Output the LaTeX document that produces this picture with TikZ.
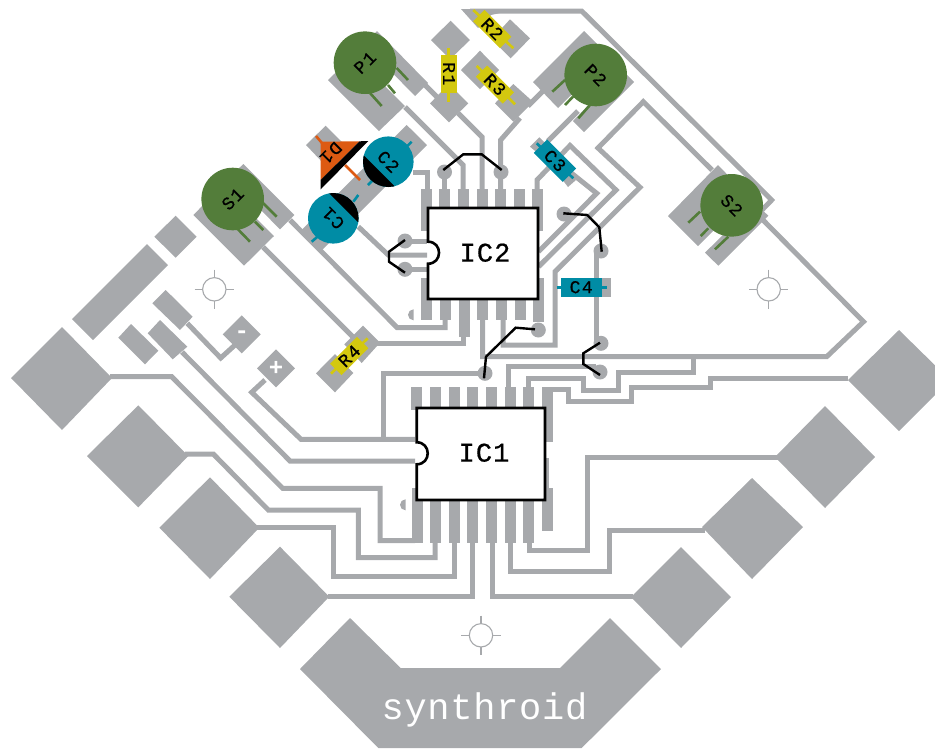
\documentclass[tikz,border=0pt]{standalone}
\usepackage{fontspec}
\setmainfont{Liberation Mono}
\newfontfamily\partfont[FakeBold=0.7,LetterSpace=8]{Liberation Mono}
\newfontfamily\chipfont[FakeBold=0.7,LetterSpace=4]{Liberation Mono}
\newfontfamily\boardfont[LetterSpace=2]{Liberation Mono}
\usepackage{tikz}
\definecolor{boardgray}{HTML}{A7A9AC}
\definecolor{partgreen}{HTML}{537D3A}
\definecolor{partteal}{HTML}{008CA5}
\definecolor{partyellow}{HTML}{D3C80F}
\definecolor{partorange}{HTML}{DD5A12}
\tikzset{>=stealth,
    trace/.style={draw=boardgray,line width=5pt},
    pad/.style={fill=boardgray},
    pin/.style={draw=boardgray,line width=11pt},
    via/.style={fill=boardgray},
    jumper/.style={draw=black,line width=2.4pt},
    target/.style={draw=boardgray,line width=1.1pt},
    lead/.style={line width=2.6pt},
    icbody/.style={draw=black,fill=white,line width=2.6pt},
    potbody/.style={circle,fill=partgreen,minimum size=62.6pt,inner sep=0pt,font=\partfont\fontsize{18}{18}\selectfont},
    capbody/.style={circle,fill=partteal,minimum size=50.6pt,inner sep=0pt,font=\partfont\fontsize{18}{18}\selectfont},
    resbody/.style={fill=partyellow,minimum width=38pt,minimum height=16pt,inner sep=0pt,font=\partfont\fontsize{18}{18}\selectfont},
    tealbody/.style={fill=partteal,minimum width=41pt,minimum height=19pt,inner sep=0pt,font=\partfont\fontsize{18}{18}\selectfont},
}
\begin{document}
\begin{tikzpicture}[x=1pt,y=-1pt]
    \useasboundingbox (0,0) rectangle (935,748);
    \clip (0,0) rectangle (935,748);

    % big pads
    \fill[pad] (62,327) -- (112,378) -- (62,430) -- (11,378) -- cycle;
    \fill[pad] (138.3,405.3) -- (188.3,456) -- (138.3,507.3) -- (87,456) -- cycle;
    \fill[pad] (210,477.3) -- (259.3,527.7) -- (210,579) -- (159.3,527.7) -- cycle;
    \fill[pad] (280,546.7) -- (329.3,596.7) -- (280,648) -- (229.3,596.7) -- cycle;
    \fill[pad] (899,330) -- (950,380) -- (899,431) -- (848,380) -- cycle;
    \fill[pad] (825,406) -- (875,457) -- (825,508) -- (775,457) -- cycle;
    \fill[pad] (752,478) -- (803,527) -- (752,579) -- (702,527) -- cycle;
    \fill[pad] (681,547) -- (731,597) -- (681,648) -- (631,597) -- cycle;
    \fill[pad] (350,618) -- (400.7,668) -- (560,668) -- (610,618) -- (661,669) -- (581.7,748) -- (378.3,748) -- (300,669) -- cycle;

    % battery and switch pads
    \fill[pad] (147,244) -- (168,265) -- (93,340) -- (72,319) -- cycle;
    \fill[pad] (175.7,215.7) -- (196.7,236.7) -- (175.7,257.7) -- (154.3,236.7) -- cycle;
    \fill[pad] (165.7,290) -- (192.7,316.7) -- (180,330) -- (152.3,303.3) -- cycle;
    \fill[pad] (160,320) -- (187.3,346.7) -- (172.7,359.3) -- (147.7,333.3) -- cycle;
    \fill[pad] (131,324) -- (158.3,350.7) -- (145,364.3) -- (118.3,337.7) -- cycle;
    \fill[pad] (241.7,315.3) -- (260.7,334.3) -- (241.7,353.3) -- (222.7,334.3) -- cycle;
    \fill[pad] (276,349.3) -- (295,368.3) -- (276,387.3) -- (257,368.3) -- cycle;

    % part pads
    \fill[pad] (328,80) -- (379,131) -- (405,106) -- (354,55) -- cycle;
    \fill[pad] (377,31) -- (428,83) -- (415,96) -- (364,44) -- cycle;
    \fill[pad] (533,82) -- (584,31) -- (610,57) -- (558,108) -- cycle;
    \fill[pad] (622,70) -- (634,82) -- (584,132) -- (573,121) -- cycle;
    \fill[pad] (193.3,215) -- (244,265.7) -- (274,236) -- (223,185) -- cycle;
    \fill[pad] (243.3,164) -- (294.3,215) -- (280,229.3) -- (229,178) -- cycle;
    \fill[pad] (718,165) -- (748,196) -- (698,246) -- (668,216) -- cycle;
    \fill[pad] (755,203) -- (768.3,215.7) -- (718.3,265.7) -- (705,252.7) -- cycle;
    \fill[pad] (363,325.7) -- (380,342.7) -- (361.7,363) -- (344.3,344.3) -- cycle;
    \fill[pad] (335,354) -- (353.3,373) -- (335,392.3) -- (316,373.3) -- cycle;
    \fill[pad] (450.7,20.7) -- (470,40) -- (450,59.3) -- (431,40) -- cycle;
    \fill[pad] (449,84) -- (468.3,103.3) -- (449,122.3) -- (430,103.3) -- cycle;
    \fill[pad] (510,19.3) -- (530,38.3) -- (510.7,58.3) -- (491.7,39.3) -- cycle;
    \fill[pad] (461,9) -- (500,9) -- (500,13) -- (491,15) -- (478,28) -- cycle;
    \fill[pad] (480,50.7) -- (499,70) -- (480,89) -- (461,70) -- cycle;
    \fill[pad] (513.3,84) -- (533.3,102) -- (513.3,121.7) -- (495,103.3) -- cycle;
    \fill[pad] (325.7,125.7) -- (345,145) -- (325,165) -- (306,145) -- cycle;
    \fill[pad] (406.7,125) -- (427,145) -- (322,250) -- (302,229.5) -- cycle;
    \fill[pad] (539.3,137.3) -- (545,142.7) -- (536,151.7) -- (530,146.7) -- cycle;
    \fill[pad] (561,178) -- (568,187) -- (576,180) -- (570,172) -- cycle;
    \fill[pad] (590,278) rectangle (611,296.7);

    % traces round the chips
    \draw[trace] (405,107) -- (463,165) -- (463,190);
    \draw[trace] (424,84) -- (437,97);
    \draw[trace] (458,113) -- (482,137) -- (482,190);
    \draw[trace] (520,118) -- (500.7,140) -- (500.7,190);
    \draw[trace] (444.7,172) -- (444.7,190);
    \draw[trace] (528,106) -- (544,90);
    \draw[trace] (548,141) -- (578,111);
    \draw[trace] (413,172) -- (427,172) -- (427,190);
    \draw[trace] (470,11) -- (581.7,11) -- (771.7,200) -- (762,210);
    \draw[trace] (537,190) -- (537,180) -- (570,145.5) -- (616,190) -- (538.5,266.7);
    \draw[trace] (570,172) -- (596.7,193.3) -- (538.5,251.7);
    \draw[trace] (503,320) -- (503,345) -- (555,345) -- (555,271.7) -- (640,187.3) -- (598,148) -- (643.3,101.7) -- (712,170);
    \draw[trace] (482.7,320) -- (482.7,356.7) -- (826.7,356.7) -- (863.5,321.7) -- (763,220);
    \draw[trace] (290,220) -- (397,327.5) -- (445,327.5) -- (445,320);
    \draw[trace] (263,247) -- (353,337);
    \draw[trace] (377,343.5) -- (463.5,343.5) -- (463.5,330);
    \draw[trace] (358.3,226.7) -- (388.3,255) -- (427,255);
    \draw[trace] (405,241) -- (427,241);
    \draw[trace] (405,269.3) -- (427,269.3);
    \draw[trace] (596,250) -- (596,343);
    \draw[trace] (596,366.7) -- (508.3,366.7) -- (508.3,388);
    \draw[trace] (528.3,388) -- (528.3,378.3) -- (583,378.3) -- (583,390) -- (618,390) -- (618,372.5) -- (693,372.5) -- (693,357);
    \draw[trace] (848,378.7) -- (710,378.7) -- (710,387) -- (631.7,387) -- (631.7,401.7) -- (568.3,401.7) -- (568.3,389.5) -- (547,389.5);

    % traces to the big pads
    \draw[trace] (110,376.7) -- (171.7,376.7) -- (282.7,488.3) -- (380,488.3) -- (380,540.7) -- (415,540.7);
    \draw[trace] (185,454) -- (213.3,454) -- (268.3,510) -- (358.3,510) -- (358.3,557.7) -- (435,557.7) -- (435,540);
    \draw[trace] (256.7,527.7) -- (333.3,527.7) -- (333.3,576.7) -- (454,576.7) -- (454,540);
    \draw[trace] (328,596.7) -- (472.7,596.7) -- (472.7,540);
    \draw[trace] (633,596.7) -- (492.3,596.7) -- (492.3,540);
    \draw[trace] (705,530.7) -- (609.3,530.7) -- (609.3,571.7) -- (510.7,571.7) -- (510.7,540);
    \draw[trace] (780,457.7) -- (587.7,457.7) -- (587.7,550) -- (529.3,550) -- (529.3,540);
    \draw[trace] (187.3,323.3) -- (220.7,358) -- (235,345);
    \draw[trace] (182,352) -- (290,461) -- (415,461);
    \draw[trace] (265,380) -- (251.7,392.3) -- (301,439.3) -- (415,439.3);
    \draw[trace] (383.3,439) -- (383.3,373.3) -- (485,373.3);

    % pins of IC2
    \draw[pin] (426,189) -- (426,231);
    \draw[pin] (444.7,189) -- (444.7,210);
    \draw[pin] (463,189) -- (463,210);
    \draw[pin] (482,189) -- (482,210);
    \draw[pin] (500.7,189) -- (500.7,210);
    \draw[pin] (519,189) -- (519,210);
    \draw[pin] (537,189) -- (537,231);
    \draw[pin] (426.7,278) -- (426.7,320);
    \draw[pin] (445,298) -- (445,320);
    \draw[pin] (464,298) -- (464,337);
    \draw[pin] (482.7,298) -- (482.7,320);
    \draw[pin] (501,298) -- (501,320);
    \draw[pin] (520,298) -- (520,320);
    \draw[pin] (538.7,278) -- (538.7,322);

    % pins of IC1
    \draw[pin] (416.7,387) -- (416.7,410);
    \draw[pin] (435.7,387) -- (435.7,410);
    \draw[pin] (454,387) -- (454,410);
    \draw[pin] (472.7,387) -- (472.7,410);
    \draw[pin] (491.3,387) -- (491.3,410);
    \draw[pin] (510,387) -- (510,410);
    \draw[pin] (528.7,387) -- (528.7,410);
    \draw[pin] (547,387) -- (547,441.7);
    \draw[pin] (417.5,488) -- (417.5,543);
    \draw[pin] (435.7,498) -- (435.7,543);
    \draw[pin] (454,498) -- (454,543);
    \draw[pin] (472.7,498) -- (472.7,543);
    \draw[pin] (491.3,498) -- (491.3,543);
    \draw[pin] (510,498) -- (510,543);
    \draw[pin] (528.7,498) -- (528.7,543);
    \draw[pin] (547,488) -- (547,530.7);
    \fill[pad] (545,458) rectangle (549,490);

    % vias
    \fill[via] (444.5,172) circle (7.5pt);
    \fill[via] (501,172) circle (7.5pt);
    \fill[via] (405,241) circle (7.5pt);
    \fill[via] (405,269.3) circle (7.5pt);
    \fill[via] (564,214) circle (7.5pt);
    \fill[via] (601,251) circle (7.5pt);
    \fill[via] (538.3,330) circle (7.5pt);
    \fill[via] (601,343.3) circle (7.5pt);
    \fill[via] (600,372) circle (7.5pt);
    \fill[via] (485,373.3) circle (7.5pt);
    \fill[via] (413.5,309.3) arc (90:270:5.5pt) -- cycle;
    \fill[via] (405.5,499.3) arc (90:270:5.5pt) -- cycle;

    % registration targets
    \draw[target] (194.6,289.3) -- (234,289.3);
    \draw[target] (214.3,269.6) -- (214.3,309);
    \draw[target,fill=white] (214.3,289.3) circle (11.7pt);
    \draw[target] (749,289.3) -- (788.4,289.3);
    \draw[target] (768.7,269.6) -- (768.7,309);
    \draw[target,fill=white] (768.7,289.3) circle (11.7pt);
    \draw[target] (461.3,635.3) -- (500.7,635.3);
    \draw[target] (481,615.6) -- (481,655);
    \draw[target,fill=white] (481,635.3) circle (11.7pt);

    % leads
    \draw[lead,partgreen] (370,93) -- (381.7,106);
    \draw[lead,partgreen] (388,85) -- (395,93.3);
    \draw[lead,partgreen] (396.7,68) -- (408,80);
    \draw[lead,partgreen] (565,80) -- (552.3,91.7);
    \draw[lead,partgreen] (573,96.7) -- (565,105);
    \draw[lead,partgreen] (590,105) -- (578.3,118.3);
    \draw[lead,partgreen] (236.7,228) -- (250,241.7);
    \draw[lead,partgreen] (255,221.7) -- (263.3,230);
    \draw[lead,partgreen] (263.3,203.3) -- (276.7,216.7);
    \draw[lead,partgreen] (700,211.7) -- (688.3,222.7);
    \draw[lead,partgreen] (708.3,228.3) -- (700.7,236);
    \draw[lead,partgreen] (728.3,236.7) -- (715,249.3);
    \draw[lead,partyellow] (448.3,47.7) -- (448.3,101.7);
    \draw[lead,partyellow] (473.3,10) -- (513.3,48.3);
    \draw[lead,partyellow] (476.7,66) -- (515,104.3);
    \draw[lead,partyellow] (331,373.7) -- (367.7,338.3);
    \draw[lead,partteal] (536.7,143.3) -- (573.3,178.3);
    \draw[lead,partteal] (556.7,287.3) -- (606.7,287.3);
    \draw[lead,partteal] (406.7,146.7) -- (411.7,141.7);
    \draw[lead,partteal] (368,185) -- (373,180);
    \draw[lead,partteal] (353.3,201.7) -- (358.3,195);
    \draw[lead,partteal] (311.7,241.7) -- (318.3,236);
    \draw[lead,partorange] (316,136) -- (321.7,142.7);
    \draw[lead,partorange] (345,165) -- (360,180);

    % parts
    \node[potbody,rotate=45] (p1) at (365,62.7) {P1};
    \node[potbody,rotate=-45] (p2) at (595.7,75) {P2};
    \node[potbody,rotate=45] (s1) at (232.7,199) {S1};
    \node[potbody,rotate=-45] (s2) at (731.7,205.3) {S2};
    \node[resbody,rotate=-90] (r1) at (449,73.8) {R1};
    \node[resbody,rotate=-45] (r2) at (492.3,29) {R2};
    \node[resbody,rotate=-45] (r3) at (495,84.6) {R3};
    \node[resbody,rotate=45] (r4) at (349.3,356) {R4};
    \node[tealbody,rotate=-45] (c3) at (555,160.7) {C3};
    \node[tealbody] (c4) at (581.2,287.2) {C4};
    \node[capbody,rotate=-45] (c2) at (388.3,161.7) {C2};
    \node[capbody,rotate=135] (c1) at (333.3,218.3) {C1};
    \begin{scope}
        \clip (388.3,161.7) circle (25.3pt);
        \fill[black] (340,131.5) -- (420,211.5) -- (375,256.5) -- (295,176.5) -- cycle;
    \end{scope}
    \begin{scope}
        \clip (333.3,218.3) circle (25.3pt);
        \fill[black] (304,168) -- (389,253) -- (434,208) -- (349,123) -- cycle;
    \end{scope}
    \fill[partorange] (320.7,141.7) -- (359.5,141.3) -- (320.7,180) -- cycle;
    \fill[black] (359.5,141.3) -- (368.3,141) -- (320.7,189.3) -- (320.7,180) -- cycle;
    \node[rotate=225,font=\partfont\fontsize{18}{18}\selectfont] (d1) at (331,153) {D1};

    % chips
    \draw[icbody] (428,241.7) -- (428,208) -- (538,208) -- (538,299) -- (428,299) -- (428,263.7) .. controls (442.7,263.7) and (442.7,241.7) .. (428,241.7) -- cycle;
    \draw[icbody] (416.7,442.3) -- (416.7,408) -- (545,408) -- (545,500) -- (416.7,500) -- (416.7,464.3) .. controls (431.4,464.3) and (431.4,442.3) .. (416.7,442.3) -- cycle;
    \node[font=\chipfont\fontsize{27}{27}\selectfont] (ic2) at (485,252.7) {IC2};
    \node[font=\chipfont\fontsize{27}{27}\selectfont] (ic1) at (484,452.7) {IC1};

    % jumpers
    \draw[jumper] (443.3,170) -- (463.3,154.3) -- (481.7,154.3) -- (501.7,170);
    \draw[jumper] (405,240) -- (389,251.7) -- (389,261.7) -- (405,272.7);
    \draw[jumper] (563.3,213.3) -- (587.3,215) -- (599.3,227.3) -- (601.7,251.7);
    \draw[jumper] (535,329.3) -- (515.7,327.7) -- (486,356.7) -- (484,378.3);
    \draw[jumper] (600,342.7) -- (583.3,353.3) -- (583.3,364) -- (600,375);

    % board texts
    \node[white,font=\fontsize{24}{24}\bfseries\selectfont] (minus) at (241.7,334.3) {-};
    \node[white,font=\fontsize{24}{24}\bfseries\selectfont] (plus) at (276,368.3) {+};
    \node[white,font=\boardfont\fontsize{37}{37}\selectfont] (name) at (484.5,710) {synthroid};
\end{tikzpicture}
\end{document}
